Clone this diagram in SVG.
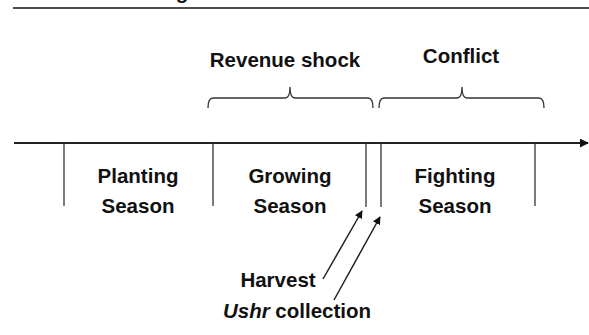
<svg xmlns="http://www.w3.org/2000/svg" width="589" height="335" viewBox="0 0 589 335">
<defs>
<style>
.t{font-family:"Liberation Sans",Arial,sans-serif;font-weight:bold;font-size:20.5px;fill:#111;text-anchor:middle}
.ln{stroke:#222;fill:none}
.tick{stroke:#333;stroke-width:1.3;fill:none}
.br{stroke:#333;stroke-width:1.3;fill:none}
</style>
<marker id="ah" viewBox="0 0 10 10" refX="9" refY="5" markerWidth="8" markerHeight="8" markerUnits="userSpaceOnUse" orient="auto">
<path d="M0,0 L10,5 L0,10 z" fill="#111"/>
</marker>
<marker id="ax" viewBox="0 0 10 10" refX="9" refY="5" markerWidth="9" markerHeight="9" markerUnits="userSpaceOnUse" orient="auto">
<path d="M0,0 L10,5 L0,10 z" fill="#111"/>
</marker>
</defs>
<rect width="589" height="335" fill="#fff"/>
<line x1="13" y1="8" x2="589" y2="8" stroke="#111" stroke-width="1.6"/>
<text class="t" x="182" y="-1">g</text>
<g id="connectors">
<line class="ln" x1="14" y1="143" x2="588" y2="143" stroke-width="2" marker-end="url(#ax)"/>
<line class="tick" x1="64" y1="143" x2="64" y2="206"/>
<line class="tick" x1="213" y1="143" x2="213" y2="206"/>
<line class="tick" x1="366" y1="143" x2="366" y2="207"/>
<line class="tick" x1="381" y1="143" x2="381" y2="207"/>
<line class="tick" x1="535" y1="143" x2="535" y2="206"/>
<path class="br" d="M208,108 Q208,98 213,98 L285,98 Q290,98 290,87 Q290,98 295,98 L368,98 Q373,98 373,108"/>
<path class="br" d="M379,108 Q379,98 384,98 L457,98 Q462,98 462,87 Q462,98 467,98 L539,98 Q544,98 544,108"/>
<line class="ln" x1="323" y1="279" x2="362" y2="211" stroke-width="1.5" marker-end="url(#ah)"/>
<line class="ln" x1="334" y1="300" x2="380" y2="217" stroke-width="1.5" marker-end="url(#ah)"/>
</g>
<g id="revenue-shock"><text class="t" x="285" y="67">Revenue shock</text></g>
<g id="conflict"><text class="t" x="461" y="63">Conflict</text></g>
<g id="planting"><text class="t" x="138" y="183">Planting</text><text class="t" x="138" y="213">Season</text></g>
<g id="growing"><text class="t" x="290" y="183">Growing</text><text class="t" x="290" y="213">Season</text></g>
<g id="fighting"><text class="t" x="455" y="183">Fighting</text><text class="t" x="455" y="213">Season</text></g>
<g id="harvest"><text class="t" x="278" y="287">Harvest</text></g>
<g id="ushr"><text class="t" x="297" y="318"><tspan font-style="italic">Ushr</tspan> collection</text></g>
</svg>
